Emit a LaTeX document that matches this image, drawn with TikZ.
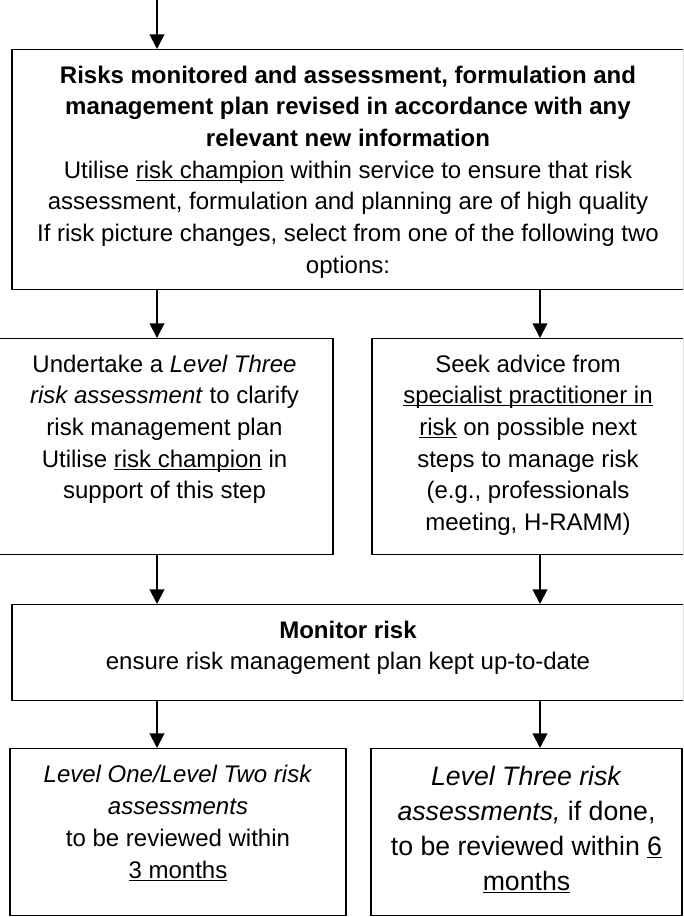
\documentclass[tikz,border=0pt]{standalone}
\usepackage{fontspec}
\setmainfont{Liberation Sans}
\usetikzlibrary{arrows.meta}

% text block: width, height, lines (top aligned)
\newcommand{\boxtext}[3]{\parbox[c][#2][t]{#1}{\centering\rule{0pt}{1.39em}#3}}
\newcommand{\undl}[1]{\underline{\smash{#1}}}

\begin{document}
\begin{tikzpicture}[x=0.75pt, y=-0.75pt,
    every node/.style={inner sep=0pt},
    box/.style={draw, line width=1.1pt, font=\fontsize{18}{23.75}\selectfont},
    arrow/.style={-{Triangle[width=11pt, length=11pt]}, line width=1.4pt}]

\useasboundingbox (0,0) rectangle (683,917);
\clip (0,0) rectangle (683,917);

% Two lanes for the arrows
\coordinate (lane-l) at (157,0);
\coordinate (lane-r) at (540,0);

% Review box (runs off the right edge)
\node[box, anchor=north] (review) at (348,49) {\boxtext{504pt}{180pt}{%
    \textbf{Risks monitored and assessment, formulation and}\\
    \textbf{management plan revised in accordance with any}\\
    \textbf{relevant new information}\\
    Utilise \undl{risk champion} within service to ensure that risk\\
    assessment, formulation and planning are of high quality\\
    If risk picture changes, select from one of the following two\\
    options:}};

% The two options
\node[box, anchor=north] (undertake) at (164.5,338) {\boxtext{252.75pt}{162pt}{%
    Undertake a \textit{Level Three}\\
    \textit{risk assessment} to clarify\\
    risk management plan\\
    Utilise \undl{risk champion} in\\
    support of this step}};
\node[box, anchor=north] (advice) at (528,338) {\boxtext{234pt}{162pt}{%
    Seek advice from\\
    \undl{specialist practitioner in}\\
    \undl{risk} on possible next\\
    steps to manage risk\\
    (e.g., professionals\\
    meeting, H-RAMM)}};

% Monitor box
\node[box, anchor=north] (monitor) at (348,604) {\boxtext{504pt}{72pt}{%
    \textbf{Monitor risk}\\
    ensure risk management plan kept up-to-date}};

% Review periods
\node[box, anchor=north, font=\fontsize{18}{24}\selectfont] (shortterm) at (178,748) {\boxtext{252pt}{125.25pt}{%
    \textit{Level One/Level Two risk}\\
    \textit{assessments}\\
    to be reviewed within\\
    \undl{3 months}}};
\node[box, anchor=north, font=\fontsize{20}{26.25}\selectfont] (longterm) at (526.5,748) {\boxtext{233.25pt}{125.25pt}{%
    \textit{Level Three risk}\\
    \textit{assessments,} if done,\\
    to be reviewed within \undl{6}\\
    \undl{months}}};

% Arrows
\draw[arrow] (lane-l) -- (lane-l |- review.north);
\foreach \from/\to/\lane in {review/undertake/lane-l, review/advice/lane-r,
    undertake/monitor/lane-l, advice/monitor/lane-r,
    monitor/shortterm/lane-l, monitor/longterm/lane-r}
    \draw[arrow] (\from.south -| \lane) -- (\lane |- \to.north);
\end{tikzpicture}
\end{document}
